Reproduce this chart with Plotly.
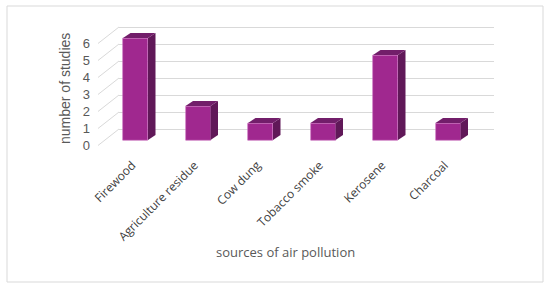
import plotly.graph_objects as go

categories = ["Firewood", "Agriculture residue", "Cow dung", "Tobacco smoke", "Kerosene", "Charcoal"]
studies = [6, 2, 1, 1, 5, 1]
y_ticks = [0, 1, 2, 3, 4, 5, 6]

W, H = 550, 289
FRONT = "#A0288F"
SIDE = "#601858"
TOP = "#721E6A"
GRID = "#D9D9D9"
TXT = "#595959"

# pseudo-3D geometry (axis units)
bar_dx = -0.236   # bar front face shifted left from back wall
bar_base = -0.65  # bar front face shifted down from back wall
bar_w = 0.4
side_dx = 0.12
side_dy = 0.3
label_dy = 0.97   # tick labels sit on the front edge of the floor

def px(x):
    return x / W

def py(y):
    return 1 - y / H

idx = list(range(len(categories)))
xc = [i + bar_dx for i in idx]

fig = go.Figure()
fig.add_trace(go.Bar(
    x=xc, y=studies, base=bar_base, width=bar_w,
    marker=dict(color=FRONT, line=dict(color="#C966BC", width=0.6)),
    showlegend=False,
))

for x, v in zip(xc, studies):
    xl, xr = x - bar_w / 2, x + bar_w / 2
    top = v + bar_base
    fig.add_trace(go.Scatter(
        x=[xr, xr + side_dx, xr + side_dx, xr, xr],
        y=[bar_base, bar_base + side_dy, top + side_dy, top, bar_base],
        fill="toself", fillcolor=SIDE, mode="lines", line=dict(width=0, color=SIDE),
        showlegend=False, hoverinfo="skip",
    ))
    fig.add_trace(go.Scatter(
        x=[xl, xl + side_dx, xr + side_dx, xr, xl],
        y=[top, top + side_dy, top + side_dy, top, top],
        fill="toself", fillcolor=TOP, mode="lines", line=dict(width=0, color=TOP),
        showlegend=False, hoverinfo="skip",
    ))

yr = [-1.5, 6.5]
xr_ = [-0.5, 5.5]
x_shift = 0.29

# side wall lines from the front tick labels to the back grid
shapes = []
for k in y_ticks:
    shapes.append(dict(type="line", xref="paper", yref="y",
                       x0=px(98), y0=k - label_dy, x1=px(119), y1=k,
                       line=dict(color=GRID, width=1)))
shapes.append(dict(type="rect", xref="paper", yref="paper",
                   x0=px(7), y0=py(282), x1=px(543), y1=py(6),
                   line=dict(color=GRID, width=1)))

fig.update_layout(
    width=W, height=H,
    margin=dict(l=0, r=0, t=0, b=0, autoexpand=False),
    paper_bgcolor="white", plot_bgcolor="white",
    bargap=0,
    xaxis=dict(domain=[px(119), px(494)], range=xr_, showgrid=False,
               zeroline=False, showticklabels=False, ticks="", automargin=False),
    yaxis=dict(domain=[py(129 + 17 * 1.5), py(129 - 17 * 6.5)], range=yr,
               tickvals=y_ticks, showgrid=True, gridcolor=GRID, gridwidth=1,
               zeroline=False, showticklabels=False, ticks="", automargin=False),
    yaxis2=dict(overlaying="y", range=[yr[0] + label_dy, yr[1] + label_dy],
                anchor="free", position=px(90), side="left", automargin=False,
                tickvals=y_ticks, showgrid=False, zeroline=False, ticks="",
                tickfont=dict(family="Liberation Sans, Arial", size=13, color=TXT)),
    xaxis2=dict(overlaying="x", range=[xr_[0] + x_shift, xr_[1] + x_shift],
                anchor="free", position=py(155), side="bottom", automargin=False,
                tickvals=idx, ticktext=categories, tickangle=-45,
                showgrid=False, zeroline=False, ticks="",
                tickfont=dict(family="Open Sans", size=12, color="#404040")),
    shapes=shapes,
    annotations=[
        dict(text="number of studies", xref="paper", yref="paper",
             x=px(65), y=py(89), xanchor="center", yanchor="middle",
             textangle=-90, showarrow=False,
             font=dict(family="Liberation Sans, Arial", size=14, color=TXT)),
        dict(text="sources of air pollution", xref="paper", yref="paper",
             x=px(285), y=py(252), xanchor="center", yanchor="middle",
             showarrow=False,
             font=dict(family="Open Sans", size=13, color=TXT)),
    ],
)

# invisible trace to activate the secondary axes
fig.add_trace(go.Scatter(x=[None], y=[None], xaxis="x2", yaxis="y2",
                         showlegend=False, hoverinfo="skip"))

fig.write_html("out.html", config={"displayModeBar": False},
               post_script="document.body.style.margin = '0';")
